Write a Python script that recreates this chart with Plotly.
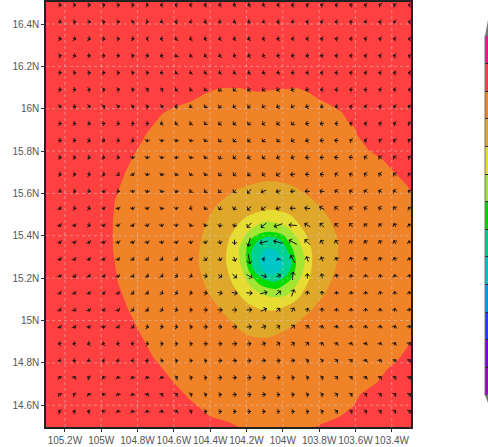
import math
import plotly.graph_objects as go

LON_TICKS = [-105.2, -105.0, -104.8, -104.6, -104.4, -104.2, -104.0, -103.8, -103.6, -103.4]
LON_LABELS = ["105.2W", "105W", "104.8W", "104.6W", "104.4W", "104.2W", "104W", "103.8W", "103.6W", "103.4W"]
LAT_TICKS = [14.6, 14.8, 15.0, 15.2, 15.4, 15.6, 15.8, 16.0, 16.2, 16.4]
LAT_LABELS = ["14.6N", "14.8N", "15N", "15.2N", "15.4N", "15.6N", "15.8N", "16N", "16.2N", "16.4N"]

BG_COLOR = "#FF4040"
ORANGE_LON = [-104.936,-104.924,-104.869,-104.825,-104.748,-104.660,-104.594,-104.511,-104.418,-104.346,-104.236,-104.142,-104.054,-103.922,-103.861,-103.811,-103.740,-103.674,-103.641,-103.602,-103.591,-103.530,-103.448,-103.371,-103.310,-103.294,-103.270,-103.270,-103.294,-103.354,-103.426,-103.481,-103.575,-103.613,-103.685,-103.795,-103.822,-104.236,-104.291,-104.401,-104.511,-104.605,-104.715,-104.798,-104.858,-104.908,-104.936]
ORANGE_LAT = [15.475,15.570,15.697,15.773,15.886,15.980,16.008,16.032,16.075,16.098,16.098,16.079,16.089,16.098,16.079,16.051,16.018,15.985,15.938,15.909,15.876,15.806,15.758,15.688,15.631,15.608,15.600,14.900,14.900,14.825,14.768,14.707,14.650,14.593,14.546,14.508,14.494,14.494,14.518,14.546,14.626,14.711,14.829,14.957,15.065,15.178,15.334]
GOLD_LON = [-104.081,-103.960,-103.834,-103.740,-103.696,-103.701,-103.756,-103.850,-103.960,-104.087,-104.197,-104.329,-104.418,-104.462,-104.445,-104.385,-104.252]
GOLD_LAT = [15.659,15.641,15.570,15.475,15.367,15.273,15.145,15.042,14.966,14.919,14.933,15.037,15.145,15.273,15.395,15.523,15.617]
YELLOW_LON = [-104.081,-103.960,-103.878,-103.839,-103.850,-103.922,-104.070,-104.197,-104.280,-104.313,-104.291,-104.208]
YELLOW_LAT = [15.523,15.499,15.414,15.320,15.207,15.098,15.046,15.084,15.178,15.287,15.395,15.485]
LIME_LON = [-104.081,-103.977,-103.916,-103.878,-103.900,-103.971,-104.070,-104.170,-104.225,-104.241,-104.197,-104.137]
LIME_LAT = [15.466,15.442,15.381,15.287,15.207,15.122,15.112,15.155,15.240,15.334,15.414,15.452]
GREEN_LON = [-104.081,-103.999,-103.949,-103.927,-103.949,-104.032,-104.126,-104.181,-104.203,-104.192,-104.142]
GREEN_LAT = [15.419,15.405,15.343,15.273,15.202,15.150,15.169,15.225,15.287,15.367,15.405]
TEAL_LON = [-104.081,-104.015,-103.971,-103.949,-103.977,-104.043,-104.126,-104.170,-104.175,-104.142]
TEAL_LAT = [15.395,15.381,15.325,15.273,15.216,15.183,15.207,15.254,15.320,15.372]
CYAN_LON = [-104.070,-104.026,-103.999,-104.021,-104.070,-104.109,-104.126,-104.109]
CYAN_LAT = [15.343,15.320,15.273,15.230,15.216,15.240,15.277,15.325]

CONTOURS = [
    (ORANGE_LON, ORANGE_LAT, "#F08228", "linear"),
    (GOLD_LON, GOLD_LAT, "#E0A82A", "spline"),
    (YELLOW_LON, YELLOW_LAT, "#E6DC32", "spline"),
    (LIME_LON, LIME_LAT, "#A0E632", "spline"),
    (GREEN_LON, GREEN_LAT, "#00DC00", "spline"),
    (TEAL_LON, TEAL_LAT, "#00D296", "spline"),
    (CYAN_LON, CYAN_LAT, "#00C8C8", "spline"),
]

WIND_LON = [-105.228 + 0.0802 * k for k in range(25)]
WIND_LAT = [16.49 - 0.08 * k for k in range(25)]

# wind direction, degrees counter-clockwise from east, one row per latitude (north to south)
WIND_DIR = [
 [0,0,0,10,10,10,350,180,170,180,190,190,200,200,200,180,170,160,160,160,170,160,150,150,180],
 [350,10,10,10,10,20,350,200,190,190,200,200,200,200,190,190,170,170,170,170,170,170,170,160,180],
 [350,340,340,350,0,350,180,190,210,200,200,200,200,200,190,190,180,180,170,170,180,170,170,180,180],
 [10,340,350,350,350,10,350,200,230,210,210,210,200,200,200,190,190,190,180,180,180,170,170,170,160],
 [0,10,10,0,10,10,10,190,220,210,210,210,210,210,200,190,190,180,170,180,170,170,170,170,170],
 [350,350,10,20,20,20,30,30,210,220,230,230,220,210,210,210,200,200,180,180,180,180,170,170,170],
 [20,350,20,30,30,20,10,20,190,210,230,230,210,220,210,210,210,200,200,190,170,160,160,160,150],
 [350,350,350,0,350,350,350,200,210,220,230,220,220,230,210,220,230,190,190,180,170,170,160,160,150],
 [350,350,340,340,350,340,260,260,250,250,240,230,230,220,230,230,210,200,190,170,150,160,150,150,150],
 [350,350,350,350,350,270,260,260,260,250,240,240,220,210,220,200,200,190,180,170,170,150,140,140,150],
 [340,350,350,340,320,300,260,250,240,240,240,230,220,220,210,210,190,180,170,150,160,150,150,140,130],
 [340,340,350,290,350,270,260,250,250,225,225,225,225,225,205,200,190,180,170,150,150,150,150,150,140],
 [310,340,340,290,290,280,280,250,270,190,230,240,240,220,215,200,180,170,150,140,140,150,150,130,130],
 [300,290,340,290,290,300,290,280,270,240,250,260,250,225,220,200,175,150,135,130,130,130,130,120,120],
 [300,290,300,290,290,290,290,280,290,280,285,280,270,255,195,165,150,135,120,125,120,120,120,120,110],
 [300,300,300,290,300,310,310,320,320,300,300,290,290,280,170,100,120,110,110,110,110,110,110,110,100],
 [290,300,310,300,300,310,320,320,330,330,340,325,320,330,340,30,85,90,100,100,100,100,100,100,90],
 [310,300,300,300,300,320,320,330,330,345,350,345,350,355,15,40,70,85,90,95,95,95,100,90,90],
 [310,300,300,300,300,320,320,330,340,0,0,355,0,5,25,45,60,75,85,85,90,90,90,80,80],
 [300,300,280,280,300,320,340,350,350,5,0,0,0,5,20,30,45,55,70,75,80,80,80,70,70],
 [190,190,200,200,190,190,350,0,0,5,0,5,5,5,20,30,35,50,60,60,70,70,70,60,60],
 [180,190,190,170,170,180,180,10,10,10,10,5,5,5,5,10,15,25,30,35,45,65,65,55,50],
 [120,60,150,120,110,100,110,110,30,20,10,5,5,5,5,10,15,20,30,40,45,60,55,50,50],
 [130,150,120,120,110,100,60,50,40,30,20,10,5,5,5,5,10,15,20,35,40,40,45,45,45],
 [150,160,170,130,110,100,90,80,60,30,10,5,0,0,0,5,5,10,20,30,30,30,40,40,40],
]

WIND_SPEED = [
 [4,4,4,4,4,4,3,4,4,4,4,4,4,4,4,4,4,4,4,4,4,4,4,4,3],
 [4,4,4,4,4,4,3,4,4,4,4,4,4,4,4,4,4,4,4,4,4,4,4,4,3],
 [4,4,4,4,4,4,3,4,4,4,4,4,4,4,4,4,4,4,4,4,4,4,4,4,3],
 [4,4,4,4,4,4,4,4,4,4,4,4,4,4,4,4,4,4,4,4,4,4,4,4,3],
 [4,4,4,4,4,4,4,4,4,4,4,4,4,4,4,4,4,4,4,4,4,4,4,4,3],
 [4,4,4,4,4,4,4,4,4,4,4,5,5,5,5,5,5,5,4,4,4,4,4,4,3],
 [4,4,4,4,4,4,4,4,4,4,4,5,5,5,5,5,5,5,4,4,4,4,4,4,4],
 [4,4,4,4,4,4,4,4,4,4,4,5,5,5,5,5,5,5,5,4,4,4,4,4,4],
 [4,4,4,4,4,4,4,4,4,4,4,5,5,5,5,5,5,5,5,5,4,4,4,4,4],
 [4,4,4,4,4,4,4,4,4,4,4,5,5,5,5,5,5,5,5,5,5,5,5,5,4],
 [4,4,4,4,4,4,4,4,4,4,4,5,5,5,5,6,6,5,5,5,5,5,5,5,4],
 [4,4,4,4,4,4,4,4,4,4,4,5,5,7,7,6,6,6,6,5,5,5,5,5,4],
 [4,4,4,4,4,4,4,4,4,4,4,5,5,7,7,6,7,7,7,6,5,5,5,5,4],
 [4,4,4,4,4,4,4,4,4,4,4,5,5,8,9,11,10,8,7,6,6,5,5,5,4],
 [4,4,4,4,4,4,4,4,4,4,4,5,6,11,10,12,11,9,6,6,5,5,5,5,4],
 [4,4,4,4,4,4,4,4,4,4,5,5,6,12,4,3,11,7,6,5,5,5,5,5,4],
 [4,4,4,4,4,4,4,4,4,4,5,6,7,9,7,7,10,6,6,5,4,4,4,4,4],
 [4,4,4,4,4,4,4,4,4,4,5,6,7,8,9,8,9,5,5,4,4,4,4,4,4],
 [4,4,4,4,4,4,4,4,4,4,5,6,6,7,8,6,6,5,5,4,4,4,4,4,4],
 [4,4,4,4,4,4,4,4,4,4,5,5,6,6,6,5,6,5,4,4,4,4,4,4,4],
 [4,4,4,4,4,4,4,4,4,4,5,5,6,5,5,5,5,5,4,4,4,4,4,4,4],
 [4,4,4,4,4,4,4,4,4,4,4,5,5,5,5,5,5,4,4,4,4,4,4,4,4],
 [4,4,4,4,4,4,4,4,4,4,4,5,5,5,5,5,4,4,4,4,4,4,4,4,4],
 [4,4,4,4,4,4,4,4,4,4,4,4,5,5,5,4,4,4,4,4,4,4,4,4,4],
 [4,4,4,4,4,4,4,4,4,4,4,4,4,4,4,4,4,4,4,4,4,4,4,4,4],
]

LEVEL_COLORS = ["#A000C8","#8200DC","#1E3CFF","#0096F0","#00BEC8","#00C88C","#00D200",
                "#A0E632","#E6DC32","#E0A82A","#F08228","#F04040","#E6148C"]

X_RANGE = [-105.304, -103.294]
Y_RANGE = [14.497, 16.504]
W, H = 488, 447
M = dict(l=46, r=77, t=2, b=20, autoexpand=False)
PX_LON = (X_RANGE[1] - X_RANGE[0]) / (W - M["l"] - M["r"])
PX_LAT = (Y_RANGE[1] - Y_RANGE[0]) / (H - M["t"] - M["b"])
ARROW_SCALE = 0.8

fig = go.Figure()

for lon, lat, color, shape in CONTOURS:
    fig.add_trace(go.Scatter(
        x=lon + lon[:1], y=lat + lat[:1], mode="lines", fill="toself", fillcolor=color,
        line=dict(width=0, color=color, shape=shape, smoothing=0.8),
        hoverinfo="skip", showlegend=False))

shaft_x, shaft_y, tip_x, tip_y, tip_angle = [], [], [], [], []
for lat, dir_row, spd_row in zip(WIND_LAT, WIND_DIR, WIND_SPEED):
    for lon, d, s in zip(WIND_LON, dir_row, spd_row):
        dx = 0.5 * ARROW_SCALE * s * math.cos(math.radians(d)) * PX_LON
        dy = 0.5 * ARROW_SCALE * s * math.sin(math.radians(d)) * PX_LAT
        shaft_x += [lon - dx, lon + dx, None]
        shaft_y += [lat - dy, lat + dy, None]
        tip_x.append(lon + dx)
        tip_y.append(lat + dy)
        tip_angle.append(90 - d)

fig.add_trace(go.Scatter(x=shaft_x, y=shaft_y, mode="lines",
                         line=dict(color="#111111", width=1), hoverinfo="skip", showlegend=False))
fig.add_trace(go.Scatter(x=tip_x, y=tip_y, mode="markers",
                         marker=dict(symbol="arrow-wide", size=3.5, angle=tip_angle, color="#111111",
                                     line=dict(width=0.5, color="#111111")),
                         hoverinfo="skip", showlegend=False))

# colour bar, cut by the right edge of the page as in the reference
n = len(LEVEL_COLORS)
scale = []
for k, c in enumerate(LEVEL_COLORS):
    scale += [[k / n, c], [(k + 1) / n, c]]
cb_top = (H - M["b"] - 36) / (H - M["t"] - M["b"])
cb_x = (485 - M["l"]) / (W - M["l"] - M["r"])
fig.add_trace(go.Scatter(
    x=[X_RANGE[0]], y=[Y_RANGE[0]], mode="markers", hoverinfo="skip", showlegend=False,
    marker=dict(size=1, opacity=0, color=[0], cmin=0, cmax=n, colorscale=scale,
                colorbar=dict(x=cb_x, xanchor="left", xpad=0, y=cb_top, yanchor="top", ypad=0,
                              lenmode="pixels", len=359, thickness=10,
                              tickvals=list(range(1, n)), ticks="inside", ticklen=10,
                              tickcolor="#222222", tickwidth=1, showticklabels=False,
                              outlinecolor="#777777", outlinewidth=1))))

shapes = []
for v in LON_TICKS:
    shapes.append(dict(type="line", xref="x", yref="paper", x0=v, x1=v, y0=0, y1=1,
                       line=dict(color="rgba(205,205,205,0.5)", width=1, dash="dot")))
for v in LAT_TICKS:
    shapes.append(dict(type="line", xref="paper", yref="y", x0=0, x1=1, y0=v, y1=v,
                       line=dict(color="rgba(205,205,205,0.5)", width=1, dash="dot")))
# pointed ends of the colour bar
px = lambda xp: (xp - M["l"]) / (W - M["l"] - M["r"])
py = lambda yp: (H - M["b"] - yp) / (H - M["t"] - M["b"])
shapes.append(dict(type="path", xref="paper", yref="paper", fillcolor="#777777", line=dict(width=0),
                   path=f"M{px(485)},{py(36)} L{px(488)},{py(20)} L{px(491)},{py(36)} Z"))
shapes.append(dict(type="path", xref="paper", yref="paper", fillcolor="#777777", line=dict(width=0),
                   path=f"M{px(485)},{py(395)} L{px(488)},{py(403)} L{px(491)},{py(395)} Z"))

axis_font = dict(family="Liberation Sans, Arial, sans-serif", size=10, color="#555555")
fig.update_layout(
    width=W, height=H, margin=M, plot_bgcolor=BG_COLOR, paper_bgcolor="white",
    showlegend=False, shapes=shapes,
    xaxis=dict(range=X_RANGE, tickvals=LON_TICKS, ticktext=LON_LABELS, ticks="outside", ticklen=3,
               tickangle=0, tickcolor="#333333", tickfont=axis_font, showgrid=False, zeroline=False,
               showline=True, mirror=True, linecolor="#222222", linewidth=1.5),
    yaxis=dict(range=Y_RANGE, tickvals=LAT_TICKS, ticktext=LAT_LABELS, ticks="outside", ticklen=3,
               tickangle=0, tickcolor="#333333", tickfont=axis_font, showgrid=False, zeroline=False,
               showline=True, mirror=True, linecolor="#222222", linewidth=1.5),
)

fig.write_html("out.html", config={"displayModeBar": False},
               post_script="document.body.style.margin='0';document.documentElement.style.overflow='hidden';")
